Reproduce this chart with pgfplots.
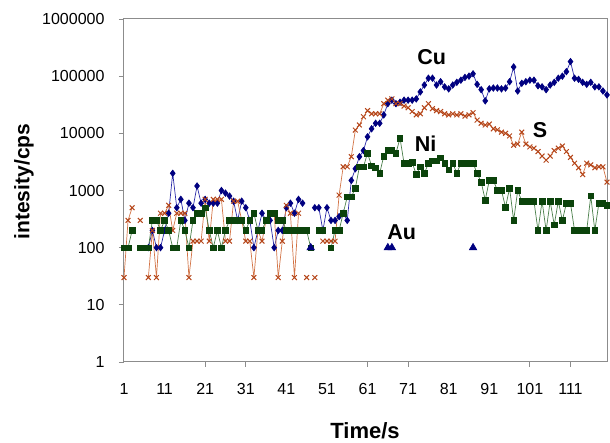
\documentclass[border=0pt]{standalone}
\usepackage{fontspec}
\setmainfont{Liberation Sans}
\usepackage{pgfplots}
\usepackage{pgfplotstable}
\pgfplotsset{compat=1.18}

\definecolor{cumark}{HTML}{000080}
\definecolor{culine}{HTML}{2A2AA8}
\definecolor{smark}{HTML}{B5461A}
\definecolor{sline}{HTML}{D27345}
\definecolor{nimark}{HTML}{0B430B}
\definecolor{niline}{HTML}{4A7F4A}
\definecolor{frame}{HTML}{8C8C8C}

% t = time index, cu/s/ni = intensity in cps (nan = zero count, gap on log axis)
\pgfplotstableread{
t cu s ni
1 nan 30 100
2 nan 300 100
3 nan 500 200
4 nan nan nan
5 nan 300 100
6 nan nan 100
7 100 30 100
8 200 200 300
9 100 30 300
10 100 400 200
11 200 400 300
12 400 550 200
13 2000 200 100
14 500 400 100
15 700 400 300
16 300 400 200
17 600 30 100
18 500 130 300
19 1200 130 400
20 600 130 400
21 700 700 500
22 600 130 200
23 600 700 100
24 600 700 200
25 1000 700 100
26 900 130 200
27 800 130 300
28 650 650 300
29 300 650 300
30 650 300 300
31 500 130 200
32 300 130 300
33 100 30 400
34 200 200 200
35 400 130 200
36 300 300 300
37 300 400 400
38 100 400 400
39 200 30 300
40 200 130 300
41 500 550 200
42 600 400 200
43 400 30 200
44 700 400 200
45 600 nan 200
46 nan 30 200
47 nan nan 100
48 500 30 nan
49 500 nan 200
50 200 130 200
51 500 130 nan
52 300 130 100
53 300 130 200
54 350 830 200
55 400 2600 400
56 300 2600 770
57 1500 3900 770
58 2400 11400 1100
59 3900 14000 2600
60 5000 19500 2600
61 8700 25000 4500
62 12000 22000 2700
63 15000 22000 2500
64 15000 22000 2000
65 21000 33000 4000
66 33000 38000 5000
67 38000 40000 5000
68 33000 33000 4500
69 35000 33000 8200
70 38000 30000 3000
71 38000 28000 3000
72 38000 24000 3100
73 40000 21000 1900
74 53000 22000 2600
75 70000 28000 2000
76 92000 33000 3000
77 92000 27000 3300
78 70000 25000 3300
79 80000 24000 3700
80 65000 22000 3000
81 60000 21000 2300
82 70000 22000 3000
83 78000 21000 2000
84 85000 22000 3000
85 95000 20000 3000
86 100000 21000 3000
87 110000 23000 3000
88 72000 17000 2000
89 58000 15000 1400
90 37000 14000 680
91 60000 14500 1500
92 62000 12000 1500
93 62000 11500 1000
94 60000 10500 1000
95 62000 10000 510
96 80000 9000 1100
97 145000 6200 300
98 55000 6500 1000
99 75000 10500 650
100 80000 6500 650
101 85000 5800 650
102 85000 5500 650
103 68000 4800 200
104 65000 4000 650
105 58000 3400 200
106 70000 4000 650
107 78000 5000 250
108 92000 5500 650
109 100000 6000 300
110 120000 4800 600
111 180000 3800 600
112 92000 3000 200
113 88000 2500 200
114 78000 1900 200
115 72000 3000 200
116 78000 2800 800
117 65000 2500 200
118 65000 2600 600
119 55000 2600 600
120 47000 1400 550
}\spectra

\pgfplotstableread{
t au
47 100
48 nan
66 100
67 100
68 nan
87 100
}\gold

\begin{document}
\begin{tikzpicture}
\path[use as bounding box] (-124pt,-81pt) rectangle (486pt,362pt);
\begin{axis}[
  at={(0,0)}, anchor=south west,
  scale only axis,
  width=483pt, height=343pt,
  ymode=log,
  xmin=1, xmax=120,
  ymin=1, ymax=1000000,
  clip=false,
  unbounded coords=jump,
  axis line style={draw=frame, line width=1pt},
  /pgf/number format/assume math mode=true,
  tick align=outside,
  major tick length=5pt,
  xtick={21,31,61,71,101,111},
  xticklabels={},
  xtick style={draw=frame, line width=0.8pt},
  xtick pos=bottom,
  extra x ticks={1,11,21,31,41,51,61,71,81,91,101,111},
  extra x tick labels={1,11,21,31,41,51,61,71,81,91,101,111},
  extra x tick style={major tick length=0pt},
  xticklabel style={font=\fontsize{16}{16}\selectfont, yshift=-18pt},
  ytick={1,10,100,1000,10000,100000,1000000},
  yticklabels={1,10,100,1000,10000,100000,1000000},
  ytick pos=left,
  ytick style={draw=frame, line width=0.8pt},
  yminorticks=false,
  yticklabel style={font=\fontsize{16}{16}\selectfont, xshift=-11pt},
]
\addplot[color=culine, line width=0.7pt, mark=diamond*, mark size=3.2pt,
  mark options={fill=cumark, draw=cumark}] table[x=t, y=cu] {\spectra};
\addplot[color=sline, line width=0.7pt, mark=x, mark size=3.4pt,
  mark options={draw=smark, line width=1pt}] table[x=t, y=s] {\spectra};
\addplot[color=niline, line width=0.7pt, mark=square*, mark size=2.8pt,
  mark options={fill=nimark, draw=nimark}] table[x=t, y=ni] {\spectra};
\addplot[color=cumark, line width=0.7pt, mark=triangle*, mark size=4.2pt,
  mark options={fill=cumark, draw=cumark}] table[x=t, y=au] {\gold};

\node[font=\bfseries\fontsize{21.5}{22}\selectfont] at (axis cs:76.8,213000) {Cu};
\node[font=\bfseries\fontsize{21.5}{22}\selectfont] at (axis cs:75.3,6700) {Ni};
\node[font=\bfseries\fontsize{21.5}{22}\selectfont] at (axis cs:103.5,11500) {S};
\node[font=\bfseries\fontsize{21.5}{22}\selectfont] at (axis cs:69.4,183) {Au};

\node[rotate=90, font=\bfseries\fontsize{21}{22}\selectfont] at (rel axis cs:-0.207,0.526) {intesity/cps};
\node[font=\bfseries\fontsize{22}{22}\selectfont] at (rel axis cs:0.499,-0.201) {Time/s};
\end{axis}
\end{tikzpicture}
\end{document}
